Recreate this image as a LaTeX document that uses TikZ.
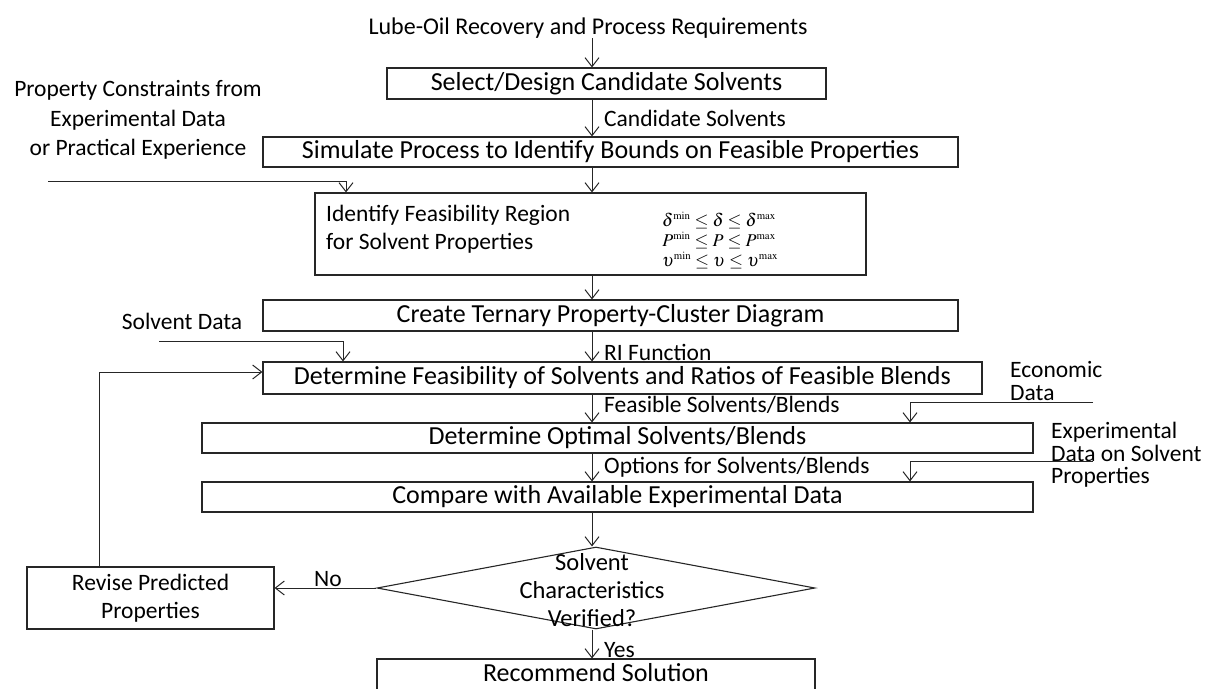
\documentclass[tikz,border=0pt]{standalone}
\usepackage{mathptmx}
\usepackage[no-math]{fontspec}
\setmainfont{Carlito}
\usetikzlibrary{arrows.meta,shapes.geometric}
\newcommand{\lo}{{\scriptscriptstyle\mathrm{min}}}
\newcommand{\hi}{{\scriptscriptstyle\mathrm{max}}}
\begin{document}
\begin{tikzpicture}[x=1pt,y=-1pt,
  box/.style={draw=black!85,line width=1.1pt,inner sep=0pt,font=\fontsize{26}{30}\selectfont},
  lbl/.style={inner sep=0pt,font=\fontsize{23.5}{28}\selectfont},
  mth/.style={inner sep=0pt,anchor=base,font=\fontsize{18}{18}\selectfont},
  arr/.style={draw=black!85,line width=1pt,-{Straight Barb[length=9pt,width=14pt,line width=1pt]}},
  ln/.style={draw=black!85,line width=1pt}]
\useasboundingbox (0,0) rectangle (1207,688);
\coordinate (m) at (592,0);

% title
\node[lbl,font=\fontsize{24}{28}\selectfont] (title) at (588,28) {Lube-Oil Recovery and Process Requirements};

% boxes
\node[box,minimum width=439pt,minimum height=31pt] (b1) at (606.5,83.5) {Select/Design Candidate Solvents};
\node[box,minimum width=695pt,minimum height=30pt] (b2) at (610.5,152) {Simulate Process to Identify Bounds on Feasible Properties};
\node[box,minimum width=551pt,minimum height=82pt] (b3) at (590.5,234) {};
\node[lbl,anchor=west,align=left] (b3t) at (326,229) {Identify Feasibility Region\\for Solvent Properties};
\node[mth] (q1) at (719,226) {$\delta^\lo\le\delta\le\delta^\hi$};
\node[mth] (q2) at (719,246) {$P^\lo\le P\le P^\hi$};
\node[mth] (q3) at (720,266) {$\upsilon^\lo\le\upsilon\le\upsilon^\hi$};
\node[box,minimum width=695pt,minimum height=31pt] (b4) at (610.5,315.5) {Create Ternary Property-Cluster Diagram};
\node[box,minimum width=719pt,minimum height=32pt] (b5) at (622.5,378) {Determine Feasibility of Solvents and Ratios of Feasible Blends};
\node[box,minimum width=831pt,minimum height=30pt] (b6) at (617.5,438) {Determine Optimal Solvents/Blends};
\node[box,minimum width=831pt,minimum height=30pt] (b7) at (617.5,497) {Compare with Available Experimental Data};
\node[draw=black!85,line width=1.1pt,diamond,inner sep=0pt,minimum width=438pt,minimum height=82pt] (dia) at (596,588) {};
\node[inner sep=0pt,align=center,font=\fontsize{24.5}{28}\selectfont] (diat) at (592,590) {Solvent\\Characteristics\\Verified?};
\node[box,minimum width=247pt,minimum height=62pt,align=center,font=\fontsize{23.5}{28}\selectfont] (rev) at (150.5,598) {Revise Predicted\\Properties};
\node[draw=black!85,line width=1.1pt,inner sep=0pt,minimum width=438pt,minimum height=32pt] (rec) at (596,675) {};
\node[inner sep=0pt,font=\fontsize{26}{30}\selectfont] (rect) at (596,673) {Recommend Solution};

% side labels
\node[lbl,align=center,font=\fontsize{23.5}{29.5}\selectfont] (pc) at (138,120) {Property Constraints from\\Experimental Data\\or Practical Experience};
\node[lbl] (sd) at (182,321) {Solvent Data};
\node[lbl,anchor=west,align=left,font=\fontsize{23.5}{23}\selectfont] (ec) at (1010,381) {Economic\\Data};
\node[lbl,anchor=west,align=left,font=\fontsize{23.5}{22.5}\selectfont] (ex) at (1051,455) {Experimental\\Data on Solvent\\Properties};

% flow labels
\node[lbl,anchor=west] (l1) at (604,118) {Candidate Solvents};
\node[lbl,anchor=west] (l2) at (604,352) {RI Function};
\node[lbl,anchor=west] (l3) at (604,405) {Feasible Solvents/Blends};
\node[lbl,anchor=west] (l4) at (604,467) {Options for Solvents/Blends};
\node[lbl,anchor=west] (l5) at (604,650) {Yes};
\node[lbl] (l6) at (328,579) {No};

% main arrows
\draw[arr] (title.south -| m) -- (b1.north -| m);
\draw[arr] (b1.south -| m) -- (b2.north -| m);
\draw[arr] (b2.south -| m) -- (b3.north -| m);
\draw[arr] (b3.south -| m) -- (b4.north -| m);
\draw[arr] (b4.south -| m) -- (b5.north -| m);
\draw[arr] (b5.south -| m) -- (b6.north -| m);
\draw[arr] (b6.south -| m) -- (b7.north -| m);
\draw[arr] (b7.south -| m) -- (dia.north -| m);
\draw[arr] (dia.south -| m) -- (rec.north -| m);
\draw[arr] (dia.west) -- (rev.east |- dia.west);

% side inputs
\coordinate (pcs) at (48,181);
\coordinate (pce) at (346,181);
\draw[arr] (pcs) -- (pce) -- (pce |- b3.north);
\coordinate (sds) at (159,341);
\coordinate (sde) at (343,341);
\draw[arr] (sds) -- (sde) -- (sde |- b5.north);
\coordinate (lp) at (99,372);
\draw[arr] (rev.north -| lp) -- (lp) -- (b5.west |- lp);
\coordinate (ecs) at (1093,402);
\coordinate (ece) at (910,402);
\draw[arr] (ecs) -- (ece) -- (ece |- b6.north);
\coordinate (exs) at (1093,461);
\coordinate (exe) at (910,461);
\draw[arr] (exs) -- (exe) -- (exe |- b7.north);
\end{tikzpicture}
\end{document}
